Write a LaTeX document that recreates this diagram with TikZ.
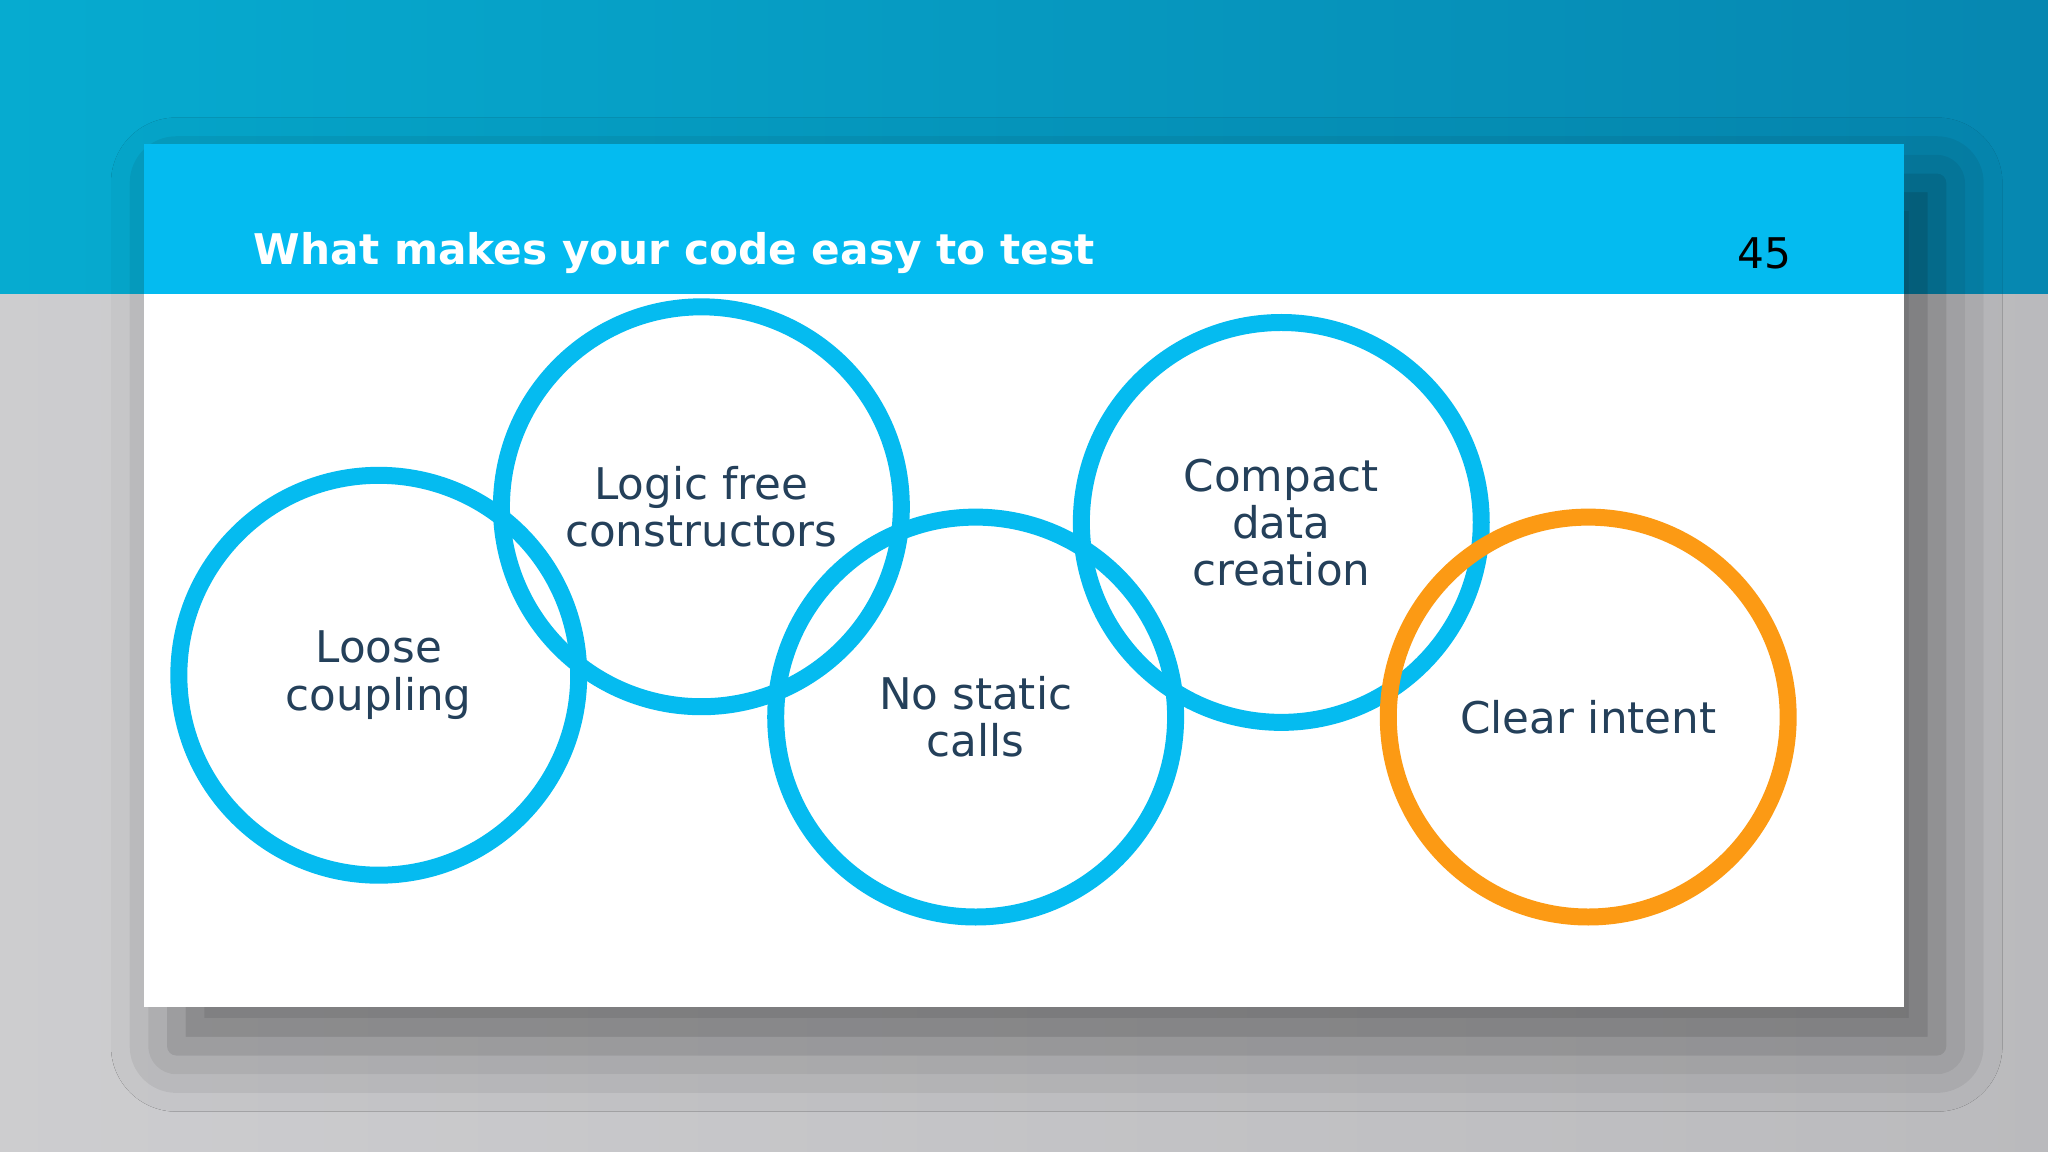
\documentclass[tikz,border=0pt]{standalone}
\usepackage{fontspec}
\setmainfont{DejaVu Sans}
\usetikzlibrary{positioning,shadows.blur}
\definecolor{topblue}{HTML}{0796C4}
\definecolor{headblue}{HTML}{04BBF0}
\definecolor{ringblue}{HTML}{05BBF0}
\definecolor{ringorange}{HTML}{FC9A14}
\definecolor{labeltext}{HTML}{24405A}
\definecolor{greybg}{HTML}{C4C4C7}
\tikzset{
  ring/.style={circle, draw=ringblue, line width=0.13cm, minimum size=3.06cm,
    inner sep=0pt, align=center, text=labeltext, font=\fontsize{9.5}{10.3}\selectfont},
  titletext/.style={font=\bfseries\fontsize{9.2}{11}\selectfont, text=white, anchor=west}
}
\begin{document}
\begin{tikzpicture}[x=0.01cm,y=-0.01cm]
  \useasboundingbox (0,0) rectangle (1568,882);
  % background
  \shade[left color=greybg!85, right color=greybg!95!black] (0,225) rectangle (1568,882);
  \shade[left color=topblue!80!cyan, right color=topblue!90!black] (0,0) rectangle (1568,225);
  % slide
  \fill[white, blur shadow={shadow xshift=0.25cm, shadow yshift=-0.3cm, shadow blur radius=0.5cm, shadow opacity=45}]
    (110,110) rectangle (1458,771);
  \fill[headblue] (110,110) rectangle (1458,225);
  \node[titletext] (title) at (182,194) {What makes your code easy to test};
  \node[font=\fontsize{9.2}{11}\selectfont, anchor=east] (num) at (1384,194) {45};

  \node[ring] (loose) at (290,517) {Loose\\coupling};
  \node[ring] (logic) at (537,388) {Logic free\\constructors};
  \node[ring] (nostatic) at (747,549) {No static\\calls};
  \node[ring] (compact) at (981,400) {Compact\\data\\creation};
  \node[ring, draw=ringorange] (clear) at (1216,549) {Clear intent};
\end{tikzpicture}
\end{document}
